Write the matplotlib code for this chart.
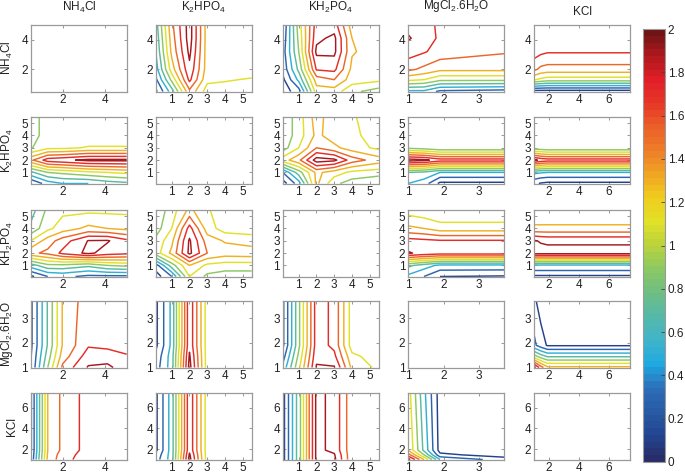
import numpy as np
import matplotlib
matplotlib.use("Agg")
import matplotlib.pyplot as plt
from matplotlib.colors import LinearSegmentedColormap, Normalize
from matplotlib.cm import ScalarMappable

plt.rcParams["font.family"] = ["Liberation Sans", "DejaVu Sans"]
plt.rcParams["mathtext.default"] = "regular"

# factor names and levels
names = ["NH$_4$Cl", "K$_2$HPO$_4$", "KH$_2$PO$_4$", "MgCl$_2$.6H$_2$O", "KCl"]
nh4 = [0.5, 1.3, 2.0, 3.2, 4.1, 5.0]
k2 = [0.1, 1.0, 2.0, 3.0, 4.0, 5.5]
kh2 = [0.1, 1.0, 2.0, 3.0, 4.0, 5.5]
mg = [1.0, 1.45, 1.9, 3.7]
kcl = [1.0, 1.45, 1.9, 7.4]
grids = [nh4, k2, kh2, mg, kcl]
limits = [(0.5, 5.0), (0.1, 5.5), (0.1, 5.5), (1.0, 3.7), (1.0, 7.4)]
ticks = [[2, 4], [1, 2, 3, 4, 5], [1, 2, 3, 4, 5], [1, 2, 3], [2, 4, 6]]
cbarTicks = [0, 0.2, 0.4, 0.6, 0.8, 1, 1.2, 1.4, 1.6, 1.8, 2]

# response surfaces, rows = y factor levels (low -> high), cols = x factor levels
z_nh4_k2 = [[0.05, 0.6, 1.45, 1.0, 1.0, 1.0],
            [0.25, 0.95, 1.75, 1.15, 1.12, 1.08],
            [0.4, 1.2, 1.85, 1.2, 1.2, 1.2],
            [0.5, 1.35, 1.95, 1.2, 1.2, 1.2],
            [0.55, 1.4, 2.0, 1.2, 1.2, 1.2],
            [0.6, 1.45, 2.0, 1.2, 1.2, 1.2]]
z_nh4_kh2 = [[0.0, 0.2, 1.2, 1.2, 0.95, 0.8],
             [0.05, 0.55, 1.4, 1.5, 1.2, 1.15],
             [0.15, 0.75, 1.72, 1.75, 1.25, 1.15],
             [0.2, 0.9, 1.95, 1.95, 1.32, 1.2],
             [0.15, 0.95, 1.85, 1.95, 1.3, 1.2],
             [0.1, 1.0, 1.8, 1.8, 1.2, 1.15]]
z_nh4_mg = [[0.45, 0.45, 0.25, 0.2],
            [1.15, 1.1, 0.95, 0.95],
            [1.55, 1.45, 1.35, 1.35],
            [1.8, 1.72, 1.62, 1.52],
            [1.92, 1.82, 1.66, 1.6],
            [1.85, 1.8, 1.65, 1.6]]
z_nh4_kcl = [[0.0, 0.0, 0.0, 0.0],
             [1.12, 1.05, 1.0, 1.0],
             [1.55, 1.45, 1.42, 1.42],
             [1.8, 1.75, 1.72, 1.72],
             [1.85, 1.83, 1.82, 1.82],
             [1.85, 1.85, 1.85, 1.85]]
z_k2_nh4 = [[0.1, 0.4, 0.5, 0.5, 0.6, 0.65],
            [0.65, 0.9, 0.95, 1.05, 1.1, 1.15],
            [1.45, 1.8, 1.85, 1.95, 1.95, 1.95],
            [0.88, 1.05, 1.05, 1.12, 1.12, 1.12],
            [0.85, 0.95, 0.95, 0.95, 0.95, 0.95],
            [0.85, 0.95, 0.95, 0.95, 0.95, 0.95]]
z_k2_kh2 = [[0.0, 0.4, 1.35, 0.95, 0.8, 0.7],
            [0.3, 0.8, 1.35, 1.2, 1.05, 1.0],
            [1.2, 1.45, 2.0, 1.95, 1.6, 1.4],
            [0.8, 1.1, 1.5, 1.35, 1.2, 1.05],
            [0.75, 1.0, 1.35, 1.2, 1.15, 1.0],
            [0.75, 1.0, 1.4, 1.15, 1.12, 1.0]]
z_k2_mg = [[0.5, 0.4, 0.05, 0.05],
           [0.7, 0.65, 0.5, 0.5],
           [2.0, 1.95, 1.8, 1.8],
           [0.85, 0.8, 0.72, 0.72],
           [0.75, 0.75, 0.75, 0.75],
           [0.75, 0.75, 0.75, 0.75]]
z_k2_kcl = [[0.15, 0.08, 0.05, 0.05],
            [0.55, 0.52, 0.5, 0.5],
            [1.95, 1.85, 1.8, 1.8],
            [0.78, 0.75, 0.72, 0.72],
            [0.75, 0.75, 0.75, 0.75],
            [0.75, 0.75, 0.75, 0.75]]
z_kh2_nh4 = [[0.05, 0.3, 0.35, 0.25, 0.25, 0.25],
             [0.6, 0.85, 0.85, 0.75, 0.9, 0.95],
             [1.45, 1.55, 1.75, 1.95, 1.8, 1.75],
             [1.1, 1.4, 1.6, 1.91, 1.92, 1.75],
             [0.75, 1.05, 1.2, 1.35, 1.3, 1.25],
             [0.6, 0.95, 1.05, 1.05, 1.05, 1.05]]
z_kh2_k2 = [[0.0, 0.3, 1.1, 0.85, 0.8, 0.8],
            [0.2, 0.8, 1.3, 1.05, 1.0, 1.0],
            [1.0, 1.35, 1.95, 1.5, 1.4, 1.42],
            [0.95, 1.25, 1.93, 1.4, 1.28, 1.2],
            [0.8, 1.1, 1.78, 1.2, 1.0, 1.0],
            [0.75, 1.0, 1.35, 1.12, 1.0, 1.0]]
z_kh2_mg = [[0.45, 0.3, 0.1, 0.08],
            [0.75, 0.6, 0.45, 0.45],
            [1.92, 1.85, 1.8, 1.8],
            [1.78, 1.75, 1.72, 1.72],
            [1.35, 1.3, 1.2, 1.2],
            [1.0, 0.95, 0.9, 0.9]]
z_kh2_kcl = [[0.05, 0.05, 0.05, 0.05],
             [0.45, 0.45, 0.45, 0.45],
             [2.0, 1.98, 1.98, 1.98],
             [1.92, 1.88, 1.86, 1.86],
             [1.35, 1.35, 1.35, 1.35],
             [1.1, 1.1, 1.1, 1.1]]
z_mg_nh4 = [[0.1, 0.9, 1.55, 1.92, 1.95, 1.78],
            [0.08, 0.8, 1.4, 1.8, 1.8, 1.72],
            [0.05, 0.72, 1.32, 1.68, 1.65, 1.62],
            [0.05, 0.72, 1.32, 1.62, 1.6, 1.6]]
z_mg_k2 = [[0.2, 0.6, 1.98, 1.0, 1.0, 1.0],
           [0.15, 0.6, 1.93, 1.0, 1.0, 1.0],
           [0.05, 0.55, 1.85, 1.0, 1.0, 1.0],
           [0.05, 0.55, 1.85, 1.0, 1.0, 1.0]]
z_mg_kh2 = [[0.35, 1.05, 1.92, 1.92, 1.25, 1.05],
            [0.2, 0.95, 1.85, 1.75, 1.15, 1.0],
            [0.05, 0.85, 1.8, 1.65, 1.0, 0.95],
            [0.05, 0.85, 1.8, 1.65, 1.0, 0.95]]
z_mg_kcl = [[2.0, 1.6, 1.35, 1.35],
            [1.0, 0.8, 0.68, 0.68],
            [0.35, 0.2, 0.08, 0.08],
            [0.15, 0.0, 0.0, 0.0]]
z_kcl_nh4 = [[0.1, 1.35, 1.62, 1.82, 1.82, 1.82],
             [0.08, 1.33, 1.6, 1.8, 1.8, 1.8],
             [0.05, 1.3, 1.55, 1.78, 1.8, 1.8],
             [0.05, 1.3, 1.55, 1.78, 1.8, 1.8]]
z_kcl_k2 = [[0.2, 0.6, 1.98, 1.0, 1.0, 1.0],
            [0.15, 0.6, 1.93, 1.0, 1.0, 1.0],
            [0.05, 0.6, 1.85, 1.0, 1.0, 1.0],
            [0.05, 0.6, 1.85, 1.0, 1.0, 1.0]]
z_kcl_kh2 = [[0.05, 0.85, 1.95, 1.95, 1.35, 1.35],
             [0.05, 0.85, 1.95, 1.92, 1.35, 1.35],
             [0.05, 0.85, 1.95, 1.85, 1.35, 1.35],
             [0.05, 0.85, 1.95, 1.85, 1.35, 1.35]]
z_kcl_mg = [[2.0, 1.3, 0.5, 0.2],
            [1.6, 0.9, 0.15, 0.0],
            [1.3, 0.65, 0.02, 0.0],
            [1.2, 0.55, 0.0, 0.0]]

surfaces = {
    (0, 1): z_nh4_k2, (0, 2): z_nh4_kh2, (0, 3): z_nh4_mg, (0, 4): z_nh4_kcl,
    (1, 0): z_k2_nh4, (1, 2): z_k2_kh2, (1, 3): z_k2_mg, (1, 4): z_k2_kcl,
    (2, 0): z_kh2_nh4, (2, 1): z_kh2_k2, (2, 3): z_kh2_mg, (2, 4): z_kh2_kcl,
    (3, 0): z_mg_nh4, (3, 1): z_mg_k2, (3, 2): z_mg_kh2, (3, 4): z_mg_kcl,
    (4, 0): z_kcl_nh4, (4, 1): z_kcl_k2, (4, 2): z_kcl_kh2, (4, 3): z_kcl_mg,
}

# muted jet, sampled off the colorbar
cmap = LinearSegmentedColormap.from_list("jetish", [
    (40/255, 45/255, 105/255), (35/255, 70/255, 145/255), (40/255, 90/255, 165/255),
    (45/255, 110/255, 185/255), (30/255, 170/255, 225/255), (65/255, 180/255, 200/255),
    (85/255, 185/255, 170/255), (110/255, 190/255, 130/255), (140/255, 200/255, 100/255),
    (185/255, 210/255, 60/255), (225/255, 225/255, 40/255), (240/255, 205/255, 30/255),
    (240/255, 165/255, 35/255), (238/255, 125/255, 40/255), (235/255, 95/255, 40/255),
    (230/255, 55/255, 40/255), (225/255, 30/255, 40/255), (175/255, 25/255, 30/255),
    (110/255, 20/255, 20/255)], N=64)
norm = Normalize(0, 2)
levels = np.arange(0.1, 2.0, 0.2)

W, H = 685, 474
fig = plt.figure(figsize=(W/100, H/100), dpi=100)
colLeft = [30.7, 155.7, 282.7, 408, 534]
rowTop = [25, 117, 210, 301, 393]
pw, ph = 96, 66.5
grey = "#9a9a9a"

for r in range(5):
    for c in range(5):
        ax = fig.add_axes([colLeft[c]/W, 1 - (rowTop[r] + ph)/H, pw/W, ph/H])
        if (r, c) in surfaces:
            X, Y = np.meshgrid(grids[c], grids[r])
            ax.contour(X, Y, np.array(surfaces[(r, c)]), levels=levels,
                       cmap=cmap, norm=norm, linewidths=1.05)
        ax.set_xlim(limits[c]); ax.set_ylim(limits[r])
        ax.set_xticks(ticks[c]); ax.set_yticks(ticks[r])
        ax.tick_params(direction="in", length=2.5, width=0.6, color="#888888",
                       top=True, right=True, labelsize=8.5, pad=2, labelcolor="#222222")
        for s in ax.spines.values():
            s.set_color(grey); s.set_linewidth(0.9)

# column titles and row labels
titleBase = [11, 11, 11, 9.5, 15]
for c in range(5):
    fig.text((colLeft[c] + pw/2)/W, 1 - titleBase[c]/H, names[c], ha="center",
             va="baseline", fontsize=8.5, color="#222222")
labelBase = [11, 11, 11, 10, 15]
for r in range(5):
    fig.text(labelBase[r]/W, 1 - (rowTop[r] + ph/2)/H, names[r], rotation=90,
             rotation_mode="anchor", ha="center", va="baseline", fontsize=8.5, color="#222222")

cax = fig.add_axes([643/W, 1 - 462/H, 22/W, (462 - 29)/H])
cb = fig.colorbar(ScalarMappable(norm=norm, cmap=cmap), cax=cax, ticks=cbarTicks)
cb.ax.set_yticklabels([f"{t:g}" for t in cbarTicks])
cb.ax.tick_params(direction="in", length=3, width=0.6, color="#444444",
                  labelsize=8.5, pad=2, labelcolor="#222222")
cb.outline.set_edgecolor(grey)

fig.savefig("out.png", dpi=100)
